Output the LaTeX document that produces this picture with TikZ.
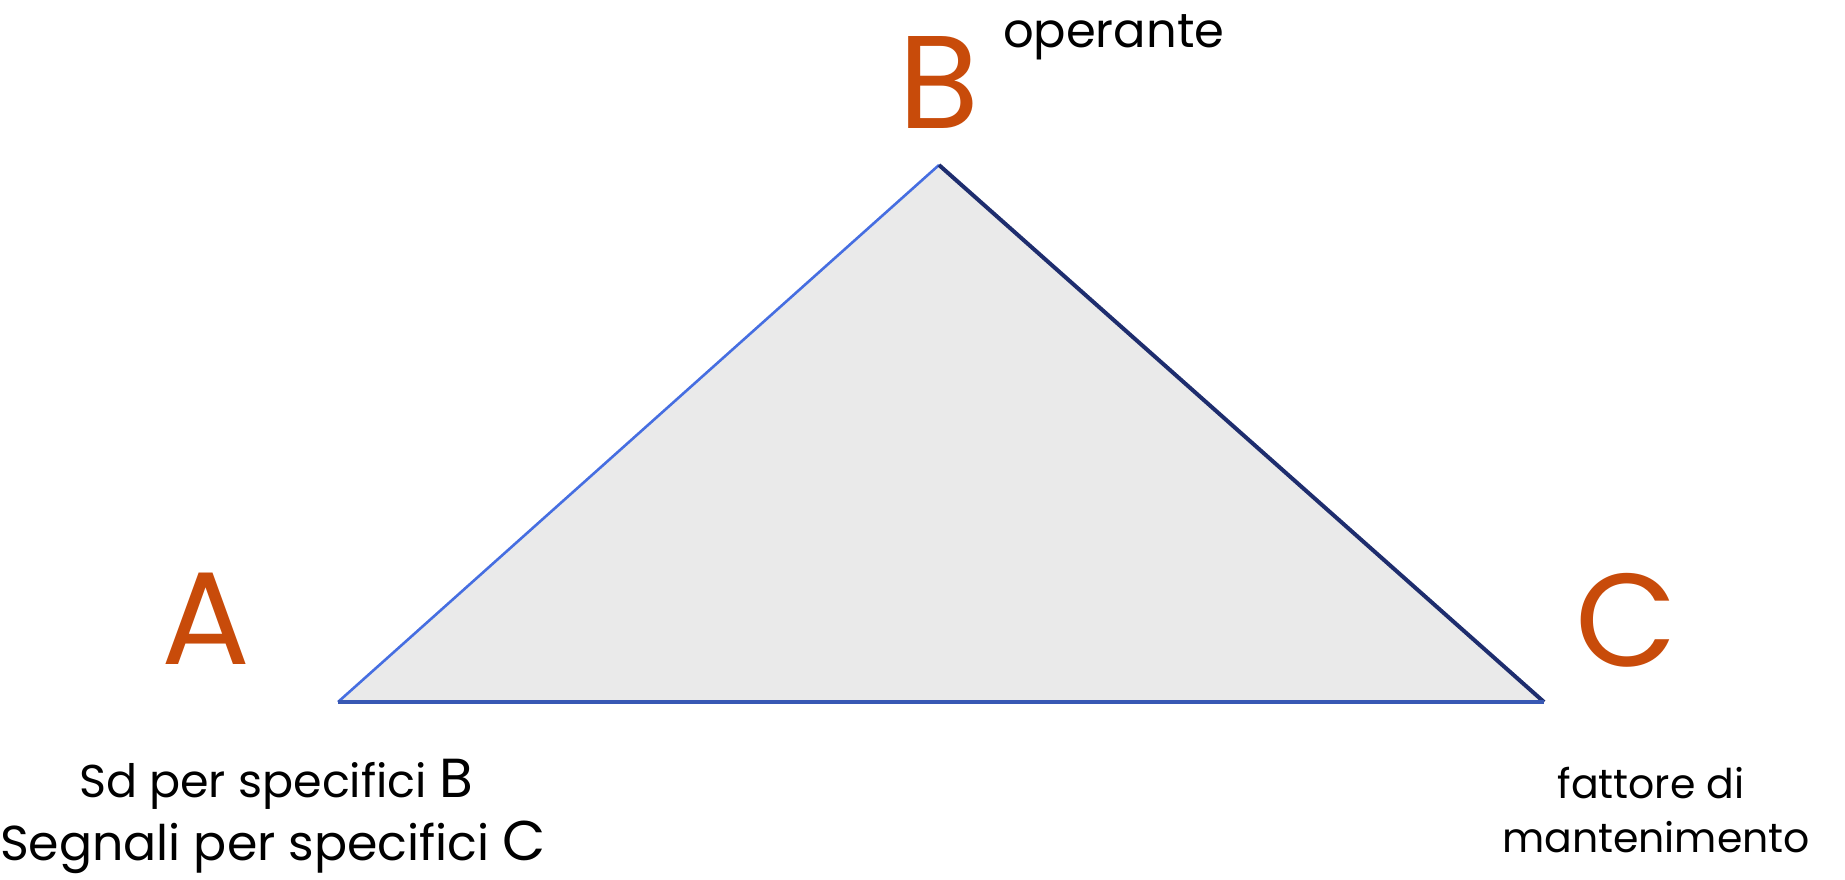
\documentclass[tikz,border=0pt]{standalone}
\usepackage{fontspec}
\setmainfont{Poppins}
\definecolor{vertexorange}{RGB}{200,75,10}
\definecolor{edgeblue}{RGB}{70,110,225}
\definecolor{edgenavy}{RGB}{30,45,110}
\definecolor{trifill}{RGB}{234,234,234}
\begin{document}
\begin{tikzpicture}[x=0.5pt,y=-0.5pt,every node/.style={inner sep=0pt,outer sep=0pt},
  vertex/.style={font=\fontsize{66}{66}\selectfont,text=vertexorange},
  caption/.style={anchor=base west,font=\fontsize{24}{28}\selectfont}]
\useasboundingbox (0,0) rectangle (1845,879);
% triangle corners
\coordinate (pA) at (338,702);
\coordinate (pB) at (939,165);
\coordinate (pC) at (1544,702);
\fill[trifill] (pA) -- (pB) -- (pC) -- cycle;
\draw[edgeblue,line width=1.3pt] (pA) -- (pB);
\draw[edgenavy,line width=2pt] (pB) -- (pC);
\draw[edgeblue!80!black,line width=1.6pt] (pA) -- (pC);
% vertex letters
\node[vertex] (labA) at (206,619) {A};
\node[vertex] (labB) at (939,82) {B};
\node[vertex] (labC) at (1626,620) {C};
% captions
\node[caption] (oper) at (1003,47) {operante};
\node[caption,font=\fontsize{23}{28}\selectfont] (sdline) at (79,797) {Sd per specifici {\fontsize{27.5}{28}\selectfont B}};
\node[caption,font=\fontsize{24.5}{28}\selectfont] (segline) at (0,860) {Segnali per specifici {\fontsize{28}{28}\selectfont C}};
\node[caption,anchor=base,font=\fontsize{20.5}{28}\selectfont] (fatt) at (1651,798) {fattore di};
\node[caption,anchor=base,font=\fontsize{20.5}{28}\selectfont] (mant) at (1656,852) {mantenimento};
\end{tikzpicture}
\end{document}
